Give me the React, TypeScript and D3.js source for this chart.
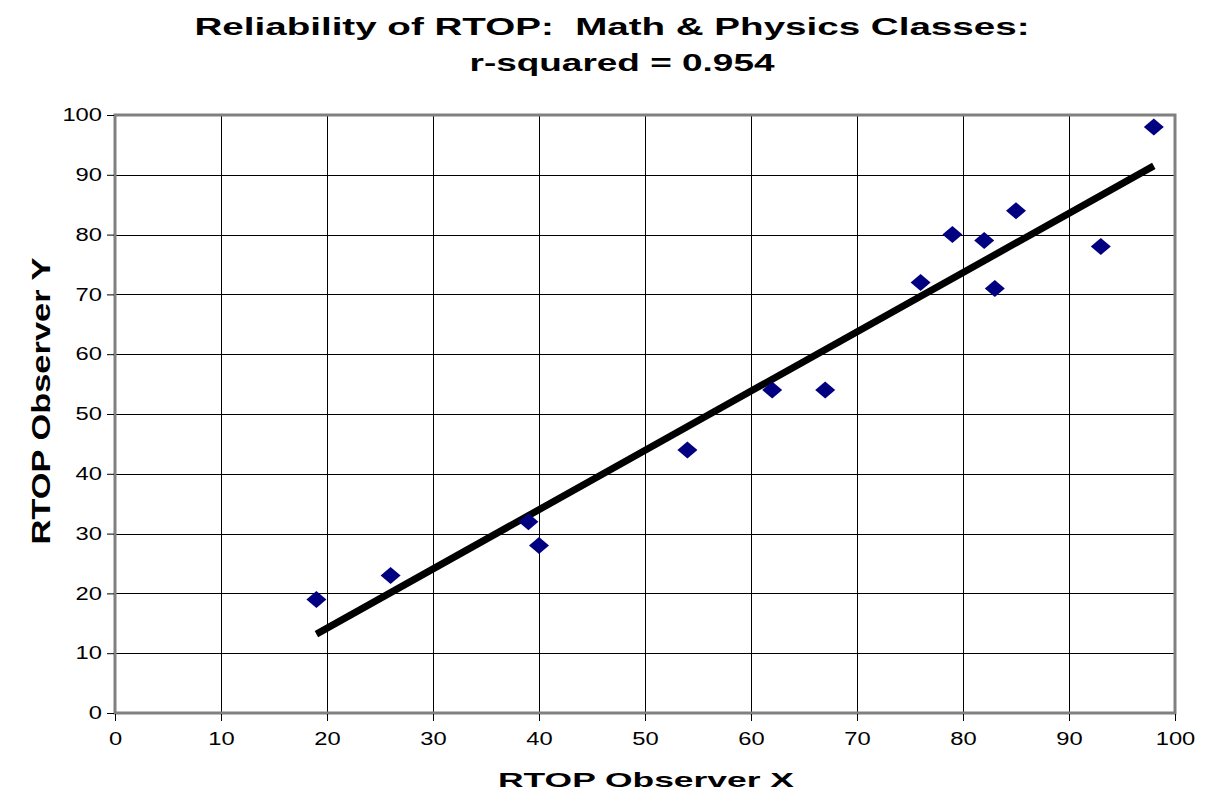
import React, { useEffect, useRef } from "react";
import * as d3 from "d3";

// RTOP scores from the two observers
const observerX = [19, 26, 39, 40, 54, 62, 67, 76, 79, 82, 83, 85, 93, 98];
const observerY = [19, 23, 32, 28, 44, 54, 54, 72, 80, 79, 71, 84, 78, 98];
const xTicks = [0, 10, 20, 30, 40, 50, 60, 70, 80, 90, 100];
const yTicks = [0, 10, 20, 30, 40, 50, 60, 70, 80, 90, 100];
const titleLines = ["Reliability of RTOP:  Math & Physics Classes:", "r-squared = 0.954"];

const FONT = "Liberation Sans, Arial, sans-serif";

function App() {
  const ref = useRef<SVGSVGElement>(null);

  useEffect(() => {
    const svg = d3.select(ref.current);
    svg.selectAll("*").remove();

    const left = 115, right = 1175, top = 115, bottom = 713;
    const x = d3.scaleLinear().domain([0, 100]).range([left, right]);
    const y = d3.scaleLinear().domain([0, 100]).range([bottom, top]);

    const g = svg.append("g");

    // grid
    g.selectAll(".vgrid")
      .data(xTicks.slice(1, -1))
      .enter()
      .append("line")
      .attr("x1", d => x(d) + 0.5)
      .attr("x2", d => x(d) + 0.5)
      .attr("y1", top)
      .attr("y2", bottom)
      .attr("stroke", "#000")
      .attr("stroke-width", 1);
    g.selectAll(".hgrid")
      .data(yTicks.slice(1, -1))
      .enter()
      .append("line")
      .attr("x1", left)
      .attr("x2", right)
      .attr("y1", d => Math.round(y(d)) + 0.5)
      .attr("y2", d => Math.round(y(d)) + 0.5)
      .attr("stroke", "#000")
      .attr("stroke-width", 1);

    // frame
    g.append("rect")
      .attr("x", left)
      .attr("y", top)
      .attr("width", right - left)
      .attr("height", bottom - top)
      .attr("fill", "none")
      .attr("stroke", "#808080")
      .attr("stroke-width", 3);

    // axes
    const xAxis = g
      .append("g")
      .attr("transform", `translate(0,${bottom + 1})`)
      .call(d3.axisBottom(x).tickValues(xTicks).tickSize(7).tickPadding(8));
    const yAxis = g
      .append("g")
      .attr("transform", `translate(${left - 1},0)`)
      .call(d3.axisLeft(y).tickValues(yTicks).tickSize(7).tickPadding(5));
    [xAxis, yAxis].forEach(a => {
      a.select(".domain").remove();
      a.selectAll("line").attr("stroke", "#000");
      a.selectAll<SVGTextElement, number>("text")
        .attr("font-family", FONT)
        .attr("font-size", 18)
        .attr("fill", "#000")
        .attr("textLength", d => String(d).length * 13.2)
        .attr("lengthAdjust", "spacingAndGlyphs");
    });
    xAxis.selectAll("text").attr("dy", "0.9em");

    // trend line (least squares)
    const mx = d3.mean(observerX)!;
    const my = d3.mean(observerY)!;
    const sxy = d3.sum(observerX, (v, i) => (v - mx) * (observerY[i] - my));
    const sxx = d3.sum(observerX, v => (v - mx) * (v - mx));
    const slope = sxy / sxx;
    const icpt = my - slope * mx;
    const [x0, x1] = d3.extent(observerX) as [number, number];
    g.append("line")
      .attr("x1", x(x0))
      .attr("y1", y(icpt + slope * x0))
      .attr("x2", x(x1))
      .attr("y2", y(icpt + slope * x1))
      .attr("stroke", "#000")
      .attr("stroke-width", 7);

    // points
    const sym = d3.symbol().type(d3.symbolSquare).size(200);
    g.selectAll(".pt")
      .data(observerX)
      .enter()
      .append("path")
      .attr("d", sym)
      .attr("transform", (d, i) => `translate(${x(d)},${y(observerY[i])}) scale(1,0.85) rotate(45)`)
      .attr("fill", "#000080");

    // titles
    const titleLen = [835, 305];
    svg
      .append("g")
      .selectAll("text")
      .data(titleLines)
      .enter()
      .append("text")
      .attr("x", (d, i) => (i === 0 ? 612 : 622))
      .attr("y", (d, i) => 35 + i * 36)
      .attr("text-anchor", "middle")
      .attr("font-family", FONT)
      .attr("font-weight", "bold")
      .attr("font-size", 23)
      .attr("textLength", (d, i) => titleLen[i])
      .attr("lengthAdjust", "spacingAndGlyphs")
      .style("white-space", "pre")
      .text(d => d);

    svg
      .append("text")
      .attr("x", 646)
      .attr("y", 787)
      .attr("text-anchor", "middle")
      .attr("font-family", FONT)
      .attr("font-weight", "bold")
      .attr("font-size", 21)
      .attr("textLength", 296)
      .attr("lengthAdjust", "spacingAndGlyphs")
      .text("RTOP Observer X");

    svg
      .append("text")
      .attr("transform", "translate(50,401) rotate(-90)")
      .attr("text-anchor", "middle")
      .attr("font-family", FONT)
      .attr("font-weight", "bold")
      .attr("font-size", 25)
      .attr("textLength", 287)
      .attr("lengthAdjust", "spacingAndGlyphs")
      .text("RTOP Observer Y");
  }, []);

  return (
    <svg
      ref={ref}
      width={1205}
      height={793}
      style={{ position: "absolute", left: 0, top: 0, display: "block", background: "#fff" }}
    />
  );
}

export default App;
